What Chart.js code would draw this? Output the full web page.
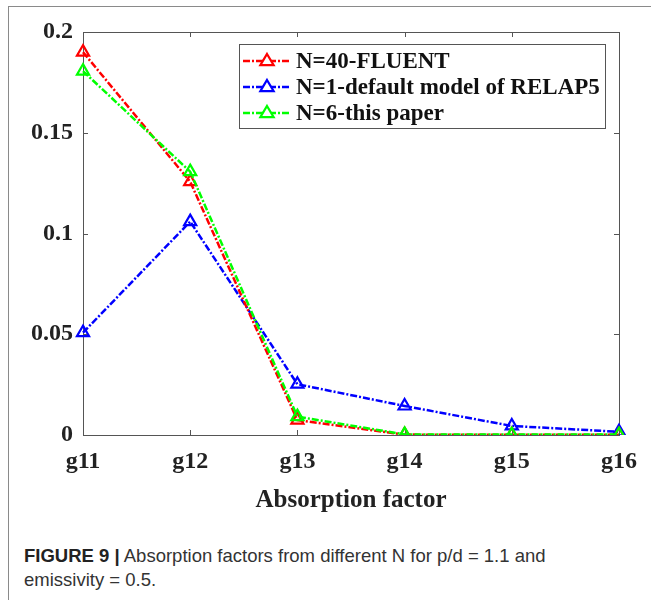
<!DOCTYPE html>
<html>
<head>
<meta charset="utf-8">
<script src="https://cdn.jsdelivr.net/npm/chart.js@4.4.1/dist/chart.umd.min.js"></script>
<style>
  html, body { margin: 0; padding: 0; background: #fff; }
  #wrap { position: relative; width: 651px; height: 600px; overflow: hidden; }
  #frame { position: absolute; left: 8px; top: 6px; width: 700px; height: 700px;
           border-top: 1px solid #8a8a8a; border-left: 1px solid #8a8a8a; }
  #chartBox { position: absolute; left: 0; top: 0; width: 651px; height: 520px; }
  #caption { position: absolute; left: 24px; top: 544px; width: 620px;
             font-family: "Liberation Sans", Arial, sans-serif; font-size: 18.5px;
             line-height: 24px; color: #333; }
  #caption b { color: #222; }
</style>
</head>
<body>
<div id="wrap">
  <div id="frame"></div>
  <div id="chartBox"><canvas id="absChart" width="651" height="520"></canvas></div>
  <div id="caption"><b>FIGURE 9 |</b> Absorption factors from different N for p/d = 1.1 and<br>emissivity = 0.5.</div>
</div>
<script>
// categorias y series
const categories = ["g11", "g12", "g13", "g14", "g15", "g16"];
const fluent40 = [0.190, 0.1257, 0.0074, 0.0002, 0.0001, 0.0001];
const relap1 = [0.0508, 0.1059, 0.0252, 0.0144, 0.0045, 0.0016];
const paper6 = [0.1806, 0.1307, 0.0091, 0.0003, 0.0002, 0.0002];
const yTicks = [0, 0.05, 0.1, 0.15, 0.2];

const serif = "'Liberation Serif', 'Times New Roman', serif";
const boxColor = "#555";

function makeDataset(label, data, color, order) {
    return {
        label: label,
        data: data,
        order: order,
        borderColor: color,
        borderWidth: 2.5,
        borderDash: [7, 2, 2, 2],
        pointStyle: "triangle",
        pointRadius: 7,
        pointBorderWidth: 2.2,
        pointBorderColor: color,
        pointBackgroundColor: "rgba(0,0,0,0)",
        tension: 0,
        fill: false
    };
}

// caja + ticks hacia dentro, estilo MATLAB
const boxPlugin = {
    id: "boxPlugin",
    beforeDatasetsDraw(chart) {
        const { ctx, chartArea: a, scales } = chart;
        ctx.save();
        ctx.strokeStyle = boxColor;
        ctx.lineWidth = 1;
        ctx.strokeRect(a.left + 0.5, a.top + 0.5, a.right - a.left, a.bottom - a.top);
        ctx.beginPath();
        scales.x.ticks.forEach((t, i) => {
            const x = Math.round(scales.x.getPixelForTick(i)) + 0.5;
            ctx.moveTo(x, a.bottom); ctx.lineTo(x, a.bottom - 5);
            ctx.moveTo(x, a.top); ctx.lineTo(x, a.top + 5);
        });
        scales.y.ticks.forEach((t, i) => {
            const y = Math.round(scales.y.getPixelForTick(i)) + 0.5;
            ctx.moveTo(a.left, y); ctx.lineTo(a.left + 5, y);
            ctx.moveTo(a.right, y); ctx.lineTo(a.right - 5, y);
        });
        ctx.stroke();
        ctx.restore();
    }
};

// leyenda dentro del area, arriba a la derecha
const legendPlugin = {
    id: "legendInside",
    afterDraw(chart) {
        const { ctx } = chart;
        const left = 239, top = 44, w = 366, h = 84, rowH = 26;
        ctx.save();
        ctx.fillStyle = "#fff";
        ctx.fillRect(left, top, w, h);
        ctx.strokeStyle = boxColor;
        ctx.lineWidth = 1;
        ctx.strokeRect(left + 0.5, top + 0.5, w, h);
        ctx.font = "bold 23px " + serif;
        ctx.textBaseline = "middle";
        chart.data.datasets.forEach((ds, i) => {
            const y = top + 17 + i * rowH;
            ctx.strokeStyle = ds.borderColor;
            ctx.lineWidth = 2.5;
            ctx.setLineDash(ds.borderDash);
            ctx.beginPath();
            ctx.moveTo(left + 4, y); ctx.lineTo(left + 52, y);
            ctx.stroke();
            ctx.setLineDash([]);
            ctx.lineWidth = 2.2;
            const cx = left + 28, r = 7;
            ctx.beginPath();
            ctx.moveTo(cx, y - r);
            ctx.lineTo(cx + r * 0.95, y + r * 0.6);
            ctx.lineTo(cx - r * 0.95, y + r * 0.6);
            ctx.closePath();
            ctx.fillStyle = "#fff";
            ctx.fill();
            ctx.stroke();
            ctx.fillStyle = "#111";
            ctx.fillText(ds.label, left + 57, y + 1);
        });
        ctx.restore();
    }
};

document.addEventListener("DOMContentLoaded", () => {
    const ctx = document.getElementById("absChart").getContext("2d");
    new Chart(ctx, {
        type: "line",
        data: {
            labels: categories,
            datasets: [
                makeDataset("N=40-FLUENT", fluent40, "#ff0000", 1),
                makeDataset("N=1-default model of RELAP5", relap1, "#0000ff", 2),
                makeDataset("N=6-this paper", paper6, "#00ff00", 0)
            ]
        },
        options: {
            responsive: false,
            animation: false,
            layout: { padding: { top: 32, right: 32, left: 0, bottom: 0 } },
            plugins: { legend: { display: false }, tooltip: { enabled: false } },
            scales: {
                x: {
                    offset: false,
                    grid: { display: false, drawTicks: false },
                    border: { display: false },
                    ticks: { color: "#222", padding: 12, maxRotation: 0,
                             font: { family: serif, size: 24, weight: "bold" } },
                    title: { display: true, text: "Absorption factor", color: "#222",
                             padding: { top: 4 },
                             font: { family: serif, size: 25, weight: "bold" } },
                    afterFit(scale) { scale.height = 85; }
                },
                y: {
                    min: 0, max: 0.2,
                    afterBuildTicks(scale) { scale.ticks = yTicks.map(v => ({ value: v })); },
                    grid: { display: false, drawTicks: false },
                    border: { display: false },
                    ticks: { color: "#222", padding: 10,
                             font: { family: serif, size: 24, weight: "bold" },
                             callback: v => String(+v.toFixed(2)) },
                    afterFit(scale) { scale.width = 83; }
                }
            }
        },
        plugins: [boxPlugin, legendPlugin]
    });
});
</script>
</body>
</html>
